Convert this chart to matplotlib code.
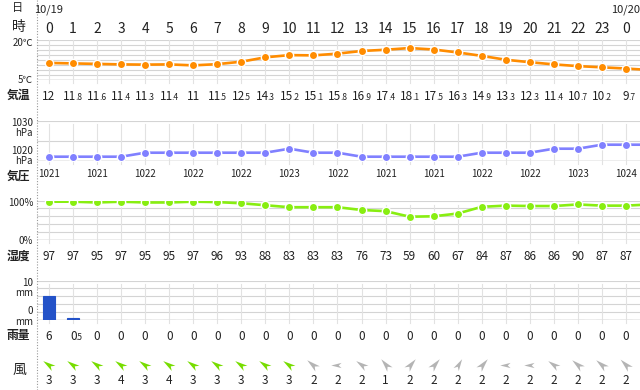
import matplotlib
matplotlib.use('Agg')
import matplotlib.pyplot as plt
import matplotlib.transforms as mtransforms
from matplotlib.lines import Line2D
import numpy as np

plt.rcParams['font.family'] = ['Noto Sans CJK JP', 'DejaVu Sans']

# --- data (hourly, 10/19 0h .. 10/20 0h, last value of line series = 10/20 1h, off-screen) ---
hour_labels = [str(h) for h in range(24)] + ['0']
date_labels = ['10/19'] + [''] * 23 + ['10/20']
temp = [12, 11.8, 11.6, 11.4, 11.3, 11.4, 11, 11.5, 12.5, 14.3, 15.2, 15.1, 15.8,
        16.9, 17.4, 18.1, 17.5, 16.3, 14.9, 13.3, 12.3, 11.4, 10.7, 10.2, 9.7, 9.1]
pressure = [1021, 1021, 1021, 1021, 1022, 1022, 1022, 1022, 1022, 1022, 1023, 1022, 1022,
            1021, 1021, 1021, 1021, 1021, 1022, 1022, 1022, 1023, 1023, 1024, 1024, 1024]
humidity = [97, 97, 95, 97, 95, 95, 97, 96, 93, 88, 83, 83, 83,
            76, 73, 59, 60, 67, 84, 87, 86, 86, 90, 87, 87, 90]
rain = [6, 0.5, 0, 0, 0, 0, 0, 0, 0, 0, 0, 0, 0, 0, 0, 0, 0, 0, 0, 0, 0, 0, 0, 0, 0]
wind_speed = [3, 3, 3, 4, 3, 4, 3, 3, 3, 3, 3, 2, 2, 2, 1, 2, 2, 2, 2, 2, 2, 2, 2, 2, 2]
wind_dir = [305, 305, 305, 305, 305, 305, 305, 305, 305, 305, 305, 310, 270, 305, 320,
            40, 40, 30, 40, 270, 270, 305, 310, 310, 315]  # bearing the arrow points to

n = len(hour_labels)
x_all = np.arange(len(temp))
x = np.arange(n)

W, H = 640, 390
fig = plt.figure(figsize=(W / 100, H / 100), dpi=100)

X0, X1 = 37, 640
COL0, COLW = 49, 24.04
xlim = ((X0 - COL0) / COLW, (X1 - COL0) / COLW)


def panel(y0, y1):
    ax = fig.add_axes([X0 / W, 1 - y1 / H, (X1 - X0) / W, (y1 - y0) / H])
    ax.set_xlim(*xlim)
    for s in ax.spines.values():
        s.set_visible(False)
    ax.tick_params(left=False, bottom=False, labelleft=False, labelbottom=False)
    ax.set_facecolor('none')
    return ax


def grid(ax, ticks, pad_top):
    for t in ticks[1:]:
        ax.axhline(t, color='#d4d4d4', lw=0.8, zorder=0)
    ax.axhline(ticks[0], color='#a8a8a8', lw=1.0, zorder=0)
    h = ax.get_position().height * H
    for xi in x:
        ax.axvline(xi, ymin=-3 / h, ymax=1 - pad_top / h, color='#e2e2e2', lw=0.8,
                   zorder=0, clip_on=False)


def fy(ypx):
    return 1 - ypx / H


def num_text(ax, xi, ybase, v, size, small):
    tr = mtransforms.blended_transform_factory(ax.transData, fig.transFigure)
    s = f'{v:g}'
    if '.' in s:
        i, d = s.split('.')
        t1 = mtransforms.offset_copy(tr, fig=fig, x=3.5, y=0, units='dots')
        t2 = mtransforms.offset_copy(tr, fig=fig, x=2.5, y=0, units='dots')
        fig.text(xi, fy(ybase), i, transform=t1, ha='right', va='baseline', fontsize=size, color='#222')
        fig.text(xi, fy(ybase), '.' + d, transform=t2, ha='left', va='baseline', fontsize=small, color='#222')
    else:
        fig.text(xi, fy(ybase), s, transform=tr, ha='center', va='baseline', fontsize=size, color='#222')


def side(text, ypx, size=7, x=33):
    fig.text(x / W, fy(ypx), text, ha='right', va='center', fontsize=size, color='#222')


# separator
fig.add_artist(Line2D([X0 / W, X0 / W], [0, 1], transform=fig.transFigure,
                      ls=(0, (1, 1.5)), color='#9a9a9a', lw=0.8))

# header
ax_t = panel(40, 80)
tr_t = mtransforms.blended_transform_factory(ax_t.transData, fig.transFigure)
for xi, d, h in zip(x, date_labels, hour_labels):
    if d:
        fig.text(xi, fy(12.5), d, transform=tr_t, ha='center', va='baseline', fontsize=8, color='#222')
    fig.text(xi, fy(33), h, transform=tr_t, ha='center', va='baseline', fontsize=10, color='#222')
fig.text(18 / W, fy(8), '日', ha='center', va='center', fontsize=8, color='#222')
fig.text(18.5 / W, fy(27.5), '時', ha='center', va='center', fontsize=10, color='#222')

# temperature
ax_t.set_ylim(5, 21.4)
grid(ax_t, np.linspace(5, 21.4, 9), 0)
ax_t.plot(x_all, temp, color='#ff8c00', lw=1.9, marker='o', ms=6, mec='white', mew=1, zorder=3)
for xi, v in zip(x, temp):
    num_text(ax_t, xi, 99.5, v, 8.5, 6)
side('20℃', 43)
side('5℃', 80)
fig.text(18.5 / W, fy(95), '気温', ha='center', va='center', fontsize=8.5, fontweight='bold', color='#222')

# pressure
ax_p = panel(120.7, 160.7)
ax_p.set_ylim(1020, 1030)
grid(ax_p, [1020, 1025, 1030], 3.5)
ax_p.plot(x_all, pressure, color='#8080ff', lw=1.9, marker='o', ms=6, mec='white', mew=1, zorder=3)
tr_p = mtransforms.blended_transform_factory(ax_p.transData, fig.transFigure)
for xi, v in zip(x[::2], pressure[:n:2]):
    fig.text(xi, fy(176.7), str(v), transform=tr_p, ha='center', va='baseline', fontsize=7, color='#222')
side('1030', 123)
side('hPa', 133)
side('1020', 151)
side('hPa', 161)
fig.text(18.5 / W, fy(176), '気圧', ha='center', va='center', fontsize=8.5, fontweight='bold', color='#222')

# humidity
ax_h = panel(200.5, 240)
ax_h.set_ylim(0, 100)
grid(ax_h, [0, 20, 40, 60, 80, 100], 4)
ax_h.plot(x_all, humidity, color='#88ee11', lw=1.9, marker='o', ms=6, mec='white', mew=1, zorder=3)
for xi, v in zip(x, humidity):
    num_text(ax_h, xi, 260, v, 8.5, 6)
side('100%', 203.3)
side('0%', 241)
fig.text(18.5 / W, fy(256), '湿度', ha='center', va='center', fontsize=8.5, fontweight='bold', color='#222')

# rain
ax_r = panel(280.5, 320.3)
ax_r.set_ylim(0, 10)
grid(ax_r, [0, 2, 4, 6, 8, 10], 3.5)
ax_r.bar(x, rain, width=0.5, color='#2352c8', edgecolor=['#2352c8' if r > 0 else '#c4c4c4' for r in rain],
         lw=0.8, zorder=3)
for xi, v in zip(x, rain):
    num_text(ax_r, xi, 340, v, 8.5, 6)
side('10', 283.3)
side('mm', 293.3)
side('0', 311)
side('mm', 322)
fig.text(18.5 / W, fy(336), '雨量', ha='center', va='center', fontsize=8.5, fontweight='bold', color='#222')

# wind
ax_w = panel(356, 376)
ax_w.set_ylim(0, 1)
base = np.array([[0, 1], [0.42, -0.65], [0, -0.2], [-0.42, -0.65], [0, 1]])
for xi, d, s in zip(x, wind_dir, wind_speed):
    a = np.deg2rad(-d)
    rot = np.array([[np.cos(a), -np.sin(a)], [np.sin(a), np.cos(a)]])
    verts = base @ rot.T
    ax_w.plot(xi, 0.55, marker=verts, ms=9, mew=0, color='#77dd00' if s >= 3 else '#b4b4b4',
              linestyle='none')
for xi, v in zip(x, wind_speed):
    num_text(ax_w, xi, 384.3, v, 8.5, 6)
fig.text(19 / W, fy(370), '風', ha='center', va='center', fontsize=10, color='#222')

fig.savefig('out.png', dpi=100)
